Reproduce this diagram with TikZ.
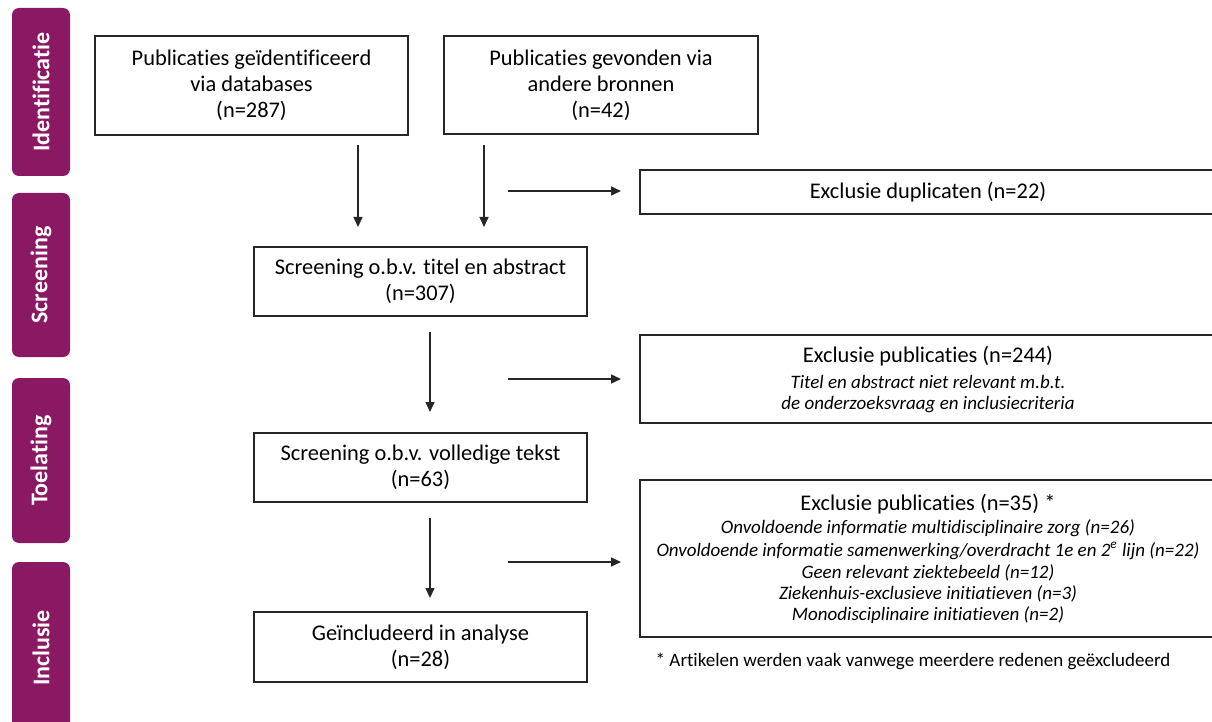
\documentclass[tikz,border=0pt]{standalone}
\usepackage{fontspec}
\setmainfont{Carlito}[Ligatures={NoCommon}]
\usetikzlibrary{arrows.meta}
\definecolor{phasepurple}{RGB}{138, 24, 98}
\newcommand{\subline}[1]{{\itshape\fontsize{9.5}{10.5}\selectfont #1}}

\begin{document}
\begin{tikzpicture}[x=0.5pt, y=-0.5pt, >={Triangle[length=5pt, width=4.5pt]},
    box/.style={draw=black!85, line width=0.6pt, align=center, inner sep=0pt, font=\fontsize{11.2}{13}\selectfont},
    phase/.style={fill=phasepurple, rounded corners=3.5pt, rotate=90, text=white, inner sep=0pt, minimum height=29pt, font=\fontsize{12}{14}\selectfont\bfseries},
    arr/.style={->, line width=0.75pt, draw=black!85}]
        \clip (0, 0) rectangle (1212, 722);
        
        % Phase labels (left column)
        \node[phase, minimum width=84pt] (identificatie) at (41, 92) {Identificatie};
        \node[phase, minimum width=82pt] (screening) at (41, 275) {Screening};
        \node[phase, minimum width=82.5pt] (toelating) at (41, 460.5) {Toelating};
        \node[phase, minimum width=86pt] (inclusie) at (41, 648) {Inclusie};
        
        % Identification boxes
        \node[box, minimum width=156.5pt, minimum height=49.5pt] (databases) at (251.5, 85.5) {Publicaties geïdentificeerd\\via databases\\(n=287)};
        \node[box, minimum width=157pt, minimum height=49pt] (bronnen) at (601, 85) {Publicaties gevonden via\\andere bronnen\\(n=42)};
        
        % Flow boxes (middle column)
        \node[box, minimum width=166.5pt, minimum height=34.5pt] (titel) at (420.5, 281.5) {Screening o.b.v. titel en abstract\\(n=307)};
        \node[box, minimum width=166.5pt, minimum height=34.5pt] (tekst) at (420.5, 467.5) {Screening o.b.v. volledige tekst\\(n=63)};
        \node[box, minimum width=166.5pt, minimum height=35pt] (analyse) at (420.5, 647) {Geïncludeerd in analyse\\(n=28)};
        
        % Exclusion boxes (right column)
        \node[box, minimum width=288pt, minimum height=22pt] (duplicaten) at (928, 192) {Exclusie duplicaten (n=22)};
        \node[box, minimum width=288pt, minimum height=44pt] (excl1) at (928, 379) {Exclusie publicaties (n=244)\\
            \subline{Titel en abstract niet relevant m.b.t.}\\[-2.5pt]
            \subline{de onderzoeksvraag en inclusiecriteria}};
        \node[box, minimum width=288pt, minimum height=78.5pt] (excl2) at (928, 558.5) {Exclusie publicaties (n=35) *\\[-1.5pt]
            \subline{Onvoldoende informatie multidisciplinaire zorg (n=26)}\\[-1.5pt]
            \subline{Onvoldoende informatie samenwerking/overdracht 1e en 2\textsuperscript{e} lijn (n=22)}\\[-2pt]
            \subline{Geen relevant ziektebeeld (n=12)}\\[-2.5pt]
            \subline{Ziekenhuis-exclusieve initiatieven (n=3)}\\[-2.5pt]
            \subline{Monodisciplinaire initiatieven (n=2)}};
        \node[font=\fontsize{9.5}{11}\selectfont] (voetnoot) at (913, 661) {* Artikelen werden vaak vanwege meerdere redenen geëxcludeerd};
        
        % Arrow end points
        \coordinate (a1s) at (358, 145); \coordinate (a1e) at (358, 227);
        \coordinate (a2s) at (484, 145); \coordinate (a2e) at (484, 227);
        \coordinate (h1s) at (508, 191); \coordinate (h1e) at (621, 191);
        \coordinate (a3s) at (430, 332); \coordinate (a3e) at (430, 412);
        \coordinate (h2s) at (508, 379); \coordinate (h2e) at (621, 379);
        \coordinate (a4s) at (430, 518); \coordinate (a4e) at (430, 598);
        \coordinate (h3s) at (508, 562); \coordinate (h3e) at (621, 562);
        
        % Arrows
        \draw[arr] (a1s) -- (a1e);
        \draw[arr] (a2s) -- (a2e);
        \draw[arr] (h1s) -- (h1e);
        \draw[arr] (a3s) -- (a3e);
        \draw[arr] (h2s) -- (h2e);
        \draw[arr] (a4s) -- (a4e);
        \draw[arr] (h3s) -- (h3e);
    \end{tikzpicture}
\end{document}
